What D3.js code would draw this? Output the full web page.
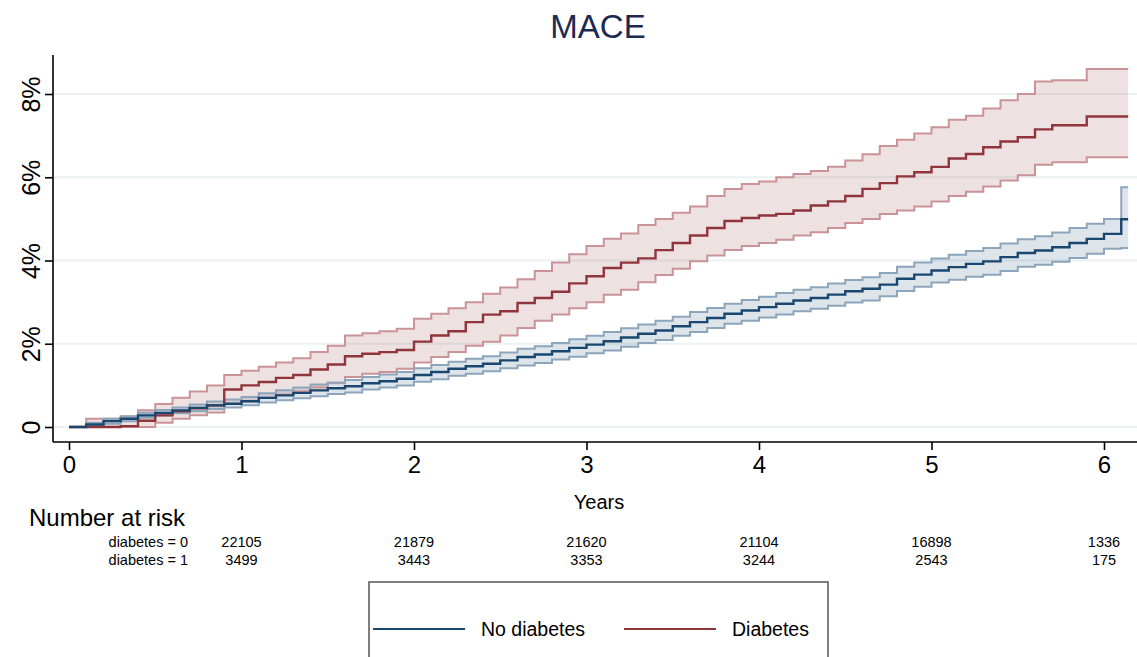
<!DOCTYPE html>
<html>
<head>
<meta charset="utf-8">
<script src="https://cdn.jsdelivr.net/npm/d3@7"></script>
<style>
  body { margin: 0; background: #fff; }
  svg { font-family: "Liberation Sans", Arial, sans-serif; display: block; }
</style>
</head>
<body>
<div id="chart"></div>
<script>
// time grid (years) shared by both curves
const times = [0.0, 0.1, 0.2, 0.3, 0.4, 0.5, 0.6, 0.7, 0.8, 0.9,
  1.0, 1.1, 1.2, 1.3, 1.4, 1.5, 1.6, 1.7, 1.8, 1.9,
  2.0, 2.1, 2.2, 2.3, 2.4, 2.5, 2.6, 2.7, 2.8, 2.9,
  3.0, 3.1, 3.2, 3.3, 3.4, 3.5, 3.6, 3.7, 3.8, 3.9,
  4.0, 4.1, 4.2, 4.3, 4.4, 4.5, 4.6, 4.7, 4.8, 4.9,
  5.0, 5.1, 5.2, 5.3, 5.4, 5.5, 5.6, 5.7, 5.8, 5.9,
  6.0, 6.1, 6.14];

// No diabetes (percent)
const noDiabEst = [0, 0.06, 0.14, 0.2, 0.28, 0.34, 0.4, 0.46, 0.52, 0.56,
  0.62, 0.7, 0.76, 0.82, 0.88, 0.93, 0.98, 1.05, 1.1, 1.16,
  1.25, 1.32, 1.4, 1.46, 1.52, 1.6, 1.68, 1.74, 1.82, 1.9,
  1.98, 2.06, 2.15, 2.24, 2.32, 2.42, 2.52, 2.62, 2.72, 2.8,
  2.88, 2.96, 3.04, 3.1, 3.18, 3.26, 3.32, 3.42, 3.56, 3.66,
  3.76, 3.84, 3.92, 3.98, 4.08, 4.18, 4.24, 4.32, 4.42, 4.52,
  4.64, 4.99, 4.99];
const noDiabLo = [0, 0.02, 0.08, 0.14, 0.22, 0.28, 0.33, 0.38, 0.43, 0.47,
  0.52, 0.59, 0.64, 0.69, 0.74, 0.79, 0.83, 0.9, 0.95, 1.0,
  1.09, 1.15, 1.23, 1.28, 1.34, 1.41, 1.48, 1.54, 1.62, 1.69,
  1.77, 1.84, 1.93, 2.02, 2.09, 2.19, 2.28, 2.38, 2.48, 2.55,
  2.63, 2.7, 2.78, 2.84, 2.91, 2.99, 3.04, 3.14, 3.27, 3.37,
  3.47, 3.54, 3.61, 3.66, 3.75, 3.85, 3.9, 3.97, 4.06, 4.16,
  4.28, 4.3, 4.3];
const noDiabHi = [0, 0.1, 0.2, 0.26, 0.34, 0.41, 0.47, 0.54, 0.61, 0.66,
  0.72, 0.81, 0.88, 0.95, 1.02, 1.07, 1.13, 1.2, 1.26, 1.32,
  1.41, 1.49, 1.57, 1.64, 1.7, 1.79, 1.88, 1.94, 2.02, 2.11,
  2.19, 2.28, 2.37, 2.46, 2.55, 2.65, 2.76, 2.86, 2.96, 3.05,
  3.13, 3.22, 3.3, 3.36, 3.45, 3.53, 3.6, 3.7, 3.85, 3.95,
  4.05, 4.14, 4.23, 4.3, 4.41, 4.51, 4.58, 4.67, 4.78, 4.88,
  5.0, 5.76, 5.76];

// Diabetes (percent)
const diabEst = [0, 0, 0, 0.02, 0.15, 0.28, 0.38, 0.45, 0.52, 0.9,
  1.0, 1.08, 1.18, 1.25, 1.38, 1.5, 1.7, 1.76, 1.8, 1.85,
  2.05, 2.2, 2.3, 2.52, 2.7, 2.78, 2.98, 3.1, 3.25, 3.45,
  3.62, 3.82, 3.95, 4.05, 4.25, 4.42, 4.6, 4.78, 4.95, 5.02,
  5.08, 5.12, 5.2, 5.32, 5.42, 5.55, 5.72, 5.86, 6.02, 6.12,
  6.25, 6.45, 6.56, 6.72, 6.86, 6.96, 7.15, 7.25, 7.25, 7.46,
  7.46, 7.46, 7.46];
const diabLo = [0, 0, 0, 0, 0, 0.1, 0.2, 0.28, 0.35, 0.55,
  0.62, 0.7, 0.78, 0.85, 0.95, 1.05, 1.2, 1.28, 1.32, 1.4,
  1.55, 1.68, 1.8, 1.95, 2.05, 2.2, 2.38, 2.55, 2.7, 2.85,
  3.0, 3.18, 3.3, 3.48, 3.65, 3.8, 3.98, 4.12, 4.25, 4.35,
  4.42, 4.5, 4.6, 4.68, 4.78, 4.9, 5.0, 5.12, 5.2, 5.3,
  5.42, 5.55, 5.65, 5.78, 5.92, 6.05, 6.3, 6.36, 6.36, 6.48,
  6.48, 6.48, 6.48];
const diabHi = [0, 0.2, 0.2, 0.25, 0.4, 0.55, 0.7, 0.85, 1.0, 1.25,
  1.35, 1.45, 1.55, 1.65, 1.8, 1.95, 2.2, 2.25, 2.3, 2.36,
  2.6, 2.72, 2.85, 3.0, 3.2, 3.35, 3.55, 3.75, 3.95, 4.15,
  4.35, 4.52, 4.65, 4.85, 5.0, 5.15, 5.3, 5.55, 5.72, 5.84,
  5.9, 6.0, 6.08, 6.15, 6.25, 6.4, 6.55, 6.75, 6.9, 7.05,
  7.2, 7.38, 7.48, 7.65, 7.85, 8.0, 8.3, 8.33, 8.33, 8.6,
  8.6, 8.6, 8.6];

const xTicks = [0, 1, 2, 3, 4, 5, 6];
const yTicks = [0, 2, 4, 6, 8];

// number at risk table
const riskTimes = [1, 2, 3, 4, 5, 6];
const riskNoDiab = [22105, 21879, 21620, 21104, 16898, 1336];
const riskDiab = [3499, 3443, 3353, 3244, 2543, 175];

const W = 1137, H = 657;
const plot = { left: 53, top: 55, right: 1137, bottom: 442 };

const svg = d3.select('#chart')
  .append('svg')
  .attr('width', W)
  .attr('height', H);

const x = d3.scaleLinear().domain([0, 6]).range([69, 1104]);
const y = d3.scaleLinear().domain([0, 8]).range([427, 94]);

const navy = '#1a476f', maroon = '#90353b';

// title
svg.append('text')
  .attr('x', 598).attr('y', 38)
  .attr('text-anchor', 'middle')
  .style('font-size', '33px')
  .style('fill', '#1c2951')
  .text('MACE');

// gridlines
svg.append('g')
  .selectAll('line')
  .data(yTicks)
  .join('line')
  .attr('x1', plot.left).attr('x2', plot.right)
  .attr('y1', d => y(d)).attr('y2', d => y(d))
  .attr('stroke', '#eaf2f3')
  .attr('stroke-width', 2);

// build the series
function rows(est, lo, hi) {
  return times.map((t, i) => ({ t: t, est: est[i], lo: lo[i], hi: hi[i] }));
}
const groups = [
  { key: 'diab', data: rows(diabEst, diabLo, diabHi), line: maroon, fill: 'rgba(144,53,59,0.15)', edge: '#c99398' },
  { key: 'nodiab', data: rows(noDiabEst, noDiabLo, noDiabHi), line: navy, fill: 'rgba(26,71,111,0.15)', edge: '#8da5bb' }
];

const area = d3.area()
  .curve(d3.curveStepAfter)
  .x(d => x(d.t))
  .y0(d => y(d.lo))
  .y1(d => y(d.hi));
const lineOf = key => d3.line()
  .curve(d3.curveStepAfter)
  .x(d => x(d.t))
  .y(d => y(d[key]));

const marks = svg.append('g');
groups.forEach(g => {
  marks.append('path')
    .datum(g.data)
    .attr('d', area)
    .attr('fill', g.fill);
});
groups.forEach(g => {
  ['lo', 'hi'].forEach(k => {
    marks.append('path')
      .datum(g.data)
      .attr('d', lineOf(k))
      .attr('fill', 'none')
      .attr('stroke', g.edge)
      .attr('stroke-width', 2);
  });
});
groups.forEach(g => {
  marks.append('path')
    .datum(g.data)
    .attr('d', lineOf('est'))
    .attr('fill', 'none')
    .attr('stroke', g.line)
    .attr('stroke-width', 2.4);
});

// axes frame
svg.append('line')
  .attr('x1', plot.left).attr('x2', plot.left)
  .attr('y1', plot.top).attr('y2', plot.bottom)
  .attr('stroke', '#000').attr('stroke-width', 1.6);
svg.append('line')
  .attr('x1', plot.left).attr('x2', plot.right)
  .attr('y1', plot.bottom).attr('y2', plot.bottom)
  .attr('stroke', '#000').attr('stroke-width', 1.6);

// Y axis
const yAxis = svg.append('g')
  .attr('transform', `translate(${plot.left},0)`)
  .call(d3.axisLeft(y).tickValues(yTicks).tickSize(8).tickPadding(0)
    .tickFormat(d => d === 0 ? '0' : d + '%'));
yAxis.select('.domain').remove();
yAxis.selectAll('line').attr('stroke', '#000').attr('stroke-width', 1.6);
yAxis.selectAll('text')
  .attr('x', null).attr('dy', null)
  .attr('text-anchor', 'middle')
  .attr('transform', 'translate(-22,0) rotate(-90)')
  .attr('dy', '0.35em')
  .style('font-size', '25px')
  .style('font-family', '"Liberation Sans", Arial, sans-serif')
  .style('fill', '#000');

// X axis
const xAxis = svg.append('g')
  .attr('transform', `translate(0,${plot.bottom})`)
  .call(d3.axisBottom(x).tickValues(xTicks).tickSize(8).tickPadding(6).tickFormat(d3.format('d')));
xAxis.select('.domain').remove();
xAxis.selectAll('line').attr('stroke', '#000').attr('stroke-width', 1.6);
xAxis.selectAll('text')
  .style('font-size', '24px')
  .style('font-family', '"Liberation Sans", Arial, sans-serif')
  .style('fill', '#000');

// axis title
svg.append('text')
  .attr('x', 599).attr('y', 509)
  .attr('text-anchor', 'middle')
  .style('font-size', '20px')
  .text('Years');

// number at risk
svg.append('text')
  .attr('x', 29).attr('y', 526)
  .style('font-size', '24px')
  .text('Number at risk');

const riskRows = [
  { label: 'diabetes = 0', vals: riskNoDiab, yy: 547 },
  { label: 'diabetes = 1', vals: riskDiab, yy: 565 }
];
riskRows.forEach(r => {
  svg.append('text')
    .attr('x', 188).attr('y', r.yy)
    .attr('text-anchor', 'end')
    .style('font-size', '14.5px')
    .text(r.label);
  svg.append('g')
    .selectAll('text')
    .data(riskTimes)
    .join('text')
    .attr('x', d => x(d))
    .attr('y', r.yy)
    .attr('text-anchor', 'middle')
    .style('font-size', '14.5px')
    .text((d, i) => r.vals[i]);
});

// legend
svg.append('rect')
  .attr('x', 369).attr('y', 582)
  .attr('width', 459).attr('height', 120)
  .attr('fill', 'none')
  .attr('stroke', '#555')
  .attr('stroke-width', 1.5);

const legendItems = [
  { name: 'No diabetes', color: navy, x0: 373 },
  { name: 'Diabetes', color: maroon, x0: 624 }
];
legendItems.forEach(d => {
  svg.append('line')
    .attr('x1', d.x0).attr('x2', d.x0 + 92)
    .attr('y1', 629).attr('y2', 629)
    .attr('stroke', d.color)
    .attr('stroke-width', 2);
  svg.append('text')
    .attr('x', d.x0 + 108).attr('y', 636)
    .style('font-size', '19.5px')
    .text(d.name);
});
</script>
</body>
</html>
